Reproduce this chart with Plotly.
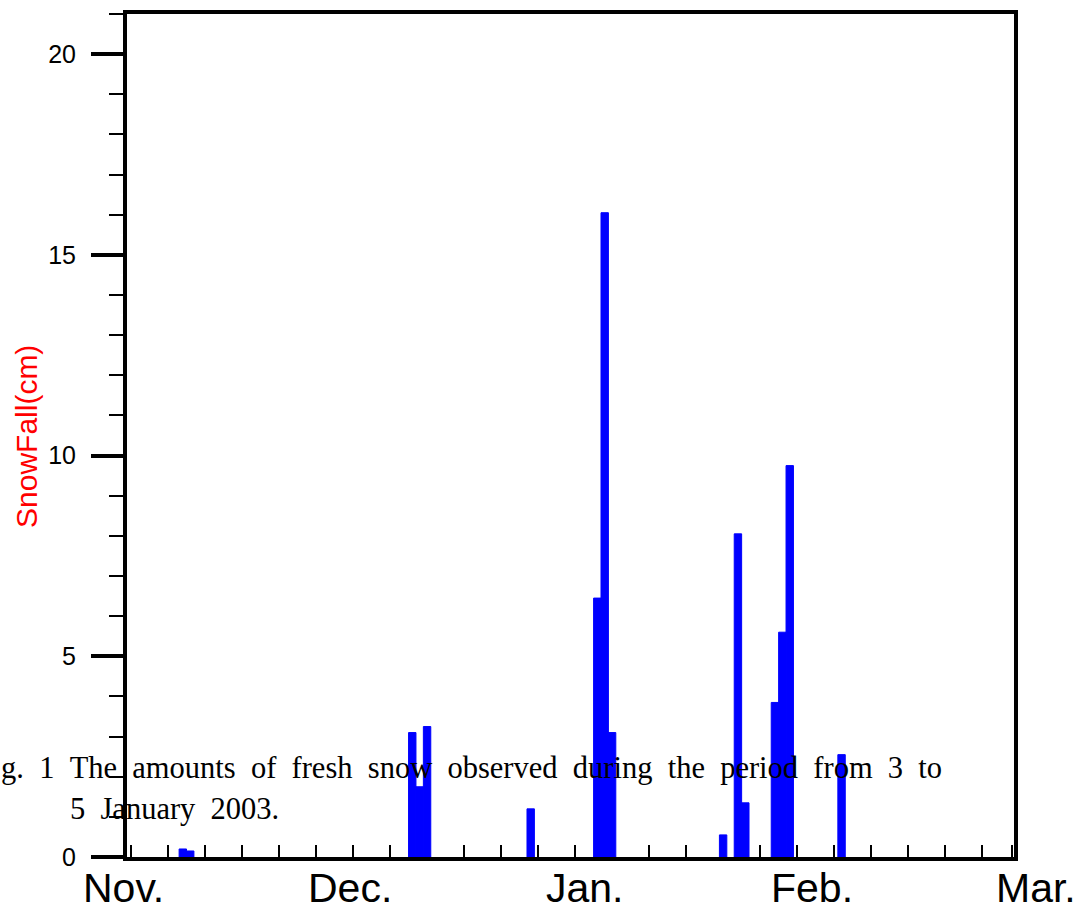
import pandas as pd
import plotly.graph_objects as go

# Daily fresh snowfall, winter 2002/2003
obs_dates = [
    "2002-11-08", "2002-11-09",
    "2002-12-09", "2002-12-10", "2002-12-11",
    "2002-12-25",
    "2003-01-03", "2003-01-04", "2003-01-05",
    "2003-01-20", "2003-01-22", "2003-01-23",
    "2003-01-27", "2003-01-28", "2003-01-29",
    "2003-02-05",
]
snowfall_cm = [
    0.2, 0.15,
    3.1, 1.75, 3.25,
    1.2,
    6.45, 16.05, 3.1,
    0.55, 8.05, 1.35,
    3.85, 5.6, 9.75,
    2.55,
]
month_labels = ["Nov.", "Dec.", "Jan.", "Feb.", "Mar."]
y_tick_values = [0, 5, 10, 15, 20]
caption_lines = [
    "g. 1 The amounts of fresh snow observed during the period from 3 to",
    "5 January 2003.",
]

# page geometry (pixels)
W, H = 1085, 914
L, R, T, B = 127, 71, 10, 57
PW, PH = W - L - R, H - T - B


def px_x(p):
    return (p - L) / PW


def px_y(p):
    return (H - B - p) / PH


def wide(text):
    # wide word spacing used in the caption
    return " \u00a0".join(text.split(" "))


start = pd.Timestamp("2002-11-01")
x_range = [start - pd.Timedelta(hours=13), start + pd.Timedelta(days=119.3)]
tick_days = list(pd.date_range("2002-11-01", "2003-02-24", freq="5D")) + [pd.Timestamp("2003-02-28")]

fig = go.Figure(
    go.Bar(
        x=pd.to_datetime(obs_dates),
        y=snowfall_cm,
        width=86400000,
        marker=dict(color="#0000FF", line=dict(width=1, color="#0000FF")),
        showlegend=False,
    )
)

fig.update_layout(
    width=W,
    height=H,
    autosize=False,
    margin=dict(l=L, r=R, t=T, b=B, pad=0),
    paper_bgcolor="white",
    plot_bgcolor="white",
    font=dict(family="Liberation Sans, Arial, sans-serif", color="black"),
)

fig.update_xaxes(
    type="date",
    range=x_range,
    showgrid=False,
    zeroline=False,
    showline=True,
    linewidth=4,
    linecolor="black",
    mirror=True,
    tickmode="array",
    tickvals=tick_days,
    ticks="inside",
    ticklen=12,
    tickwidth=2,
    tickcolor="black",
    showticklabels=False,
    layer="below traces",
)

fig.update_yaxes(
    range=[0, 21],
    showgrid=False,
    zeroline=False,
    showline=True,
    linewidth=4,
    linecolor="black",
    mirror=True,
    tickmode="array",
    tickvals=y_tick_values,
    ticks="outside",
    ticklen=32,
    tickwidth=4,
    tickcolor="black",
    tickfont=dict(size=25, color="black"),
    ticklabelstandoff=10,
    minor=dict(tickmode="linear", tick0=0, dtick=1, ticks="outside",
               ticklen=14, tickwidth=2, tickcolor="black", showgrid=False),
)

annotations = []

# month names under the time axis
month_px = [123, 350, 585, 812, 1036]
for name, p in zip(month_labels, month_px):
    annotations.append(dict(
        text=name, xref="paper", yref="paper",
        x=px_x(p), y=px_y(888), xanchor="center", yanchor="middle",
        showarrow=False, font=dict(size=41, color="black"),
    ))

# vertical axis title
annotations.append(dict(
    text="SnowFall(cm)", xref="paper", yref="paper",
    x=px_x(27), y=px_y(435), xanchor="center", yanchor="middle",
    textangle=-90, showarrow=False,
    font=dict(size=30, color="#FF0000"),
))

# figure caption printed across the lower part of the chart
caption_font = dict(family="Liberation Serif, Times New Roman, serif", size=30.5, color="black")
annotations.append(dict(
    text=wide(caption_lines[0]), xref="paper", yref="paper",
    x=px_x(-1), y=px_y(768), xanchor="left", yanchor="middle",
    showarrow=False, font=caption_font,
))
annotations.append(dict(
    text=wide(caption_lines[1]), xref="paper", yref="paper",
    x=px_x(68), y=px_y(809), xanchor="left", yanchor="middle",
    showarrow=False, font=caption_font,
))

fig.update_layout(annotations=annotations)

fig.write_html("out.html")
